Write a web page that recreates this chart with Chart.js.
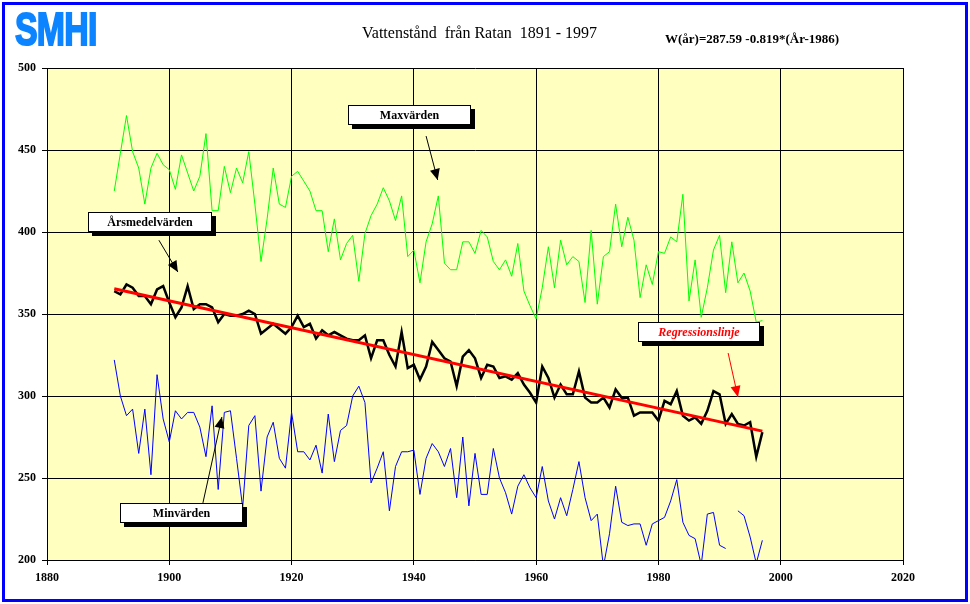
<!DOCTYPE html>
<html>
<head>
<meta charset="utf-8">
<script src="https://cdn.jsdelivr.net/npm/chart.js@4"></script>
<style>
  body { margin: 0; background: #fff; }
  #wrap { position: relative; width: 970px; height: 604px; overflow: hidden; background: #fff; }
  #frame { position: absolute; left: 2px; top: 2px; width: 966px; height: 600px; border: 3px solid #0000ff; box-sizing: border-box; pointer-events: none; }
  .logo { position: absolute; left: 15px; top: 5px; font: bold 47px/48px "Liberation Sans", Arial, sans-serif; color: #0d84ff; -webkit-text-stroke: 2px #0d84ff; transform: scaleX(0.72); transform-origin: left top; letter-spacing: -1px; }
  .title { position: absolute; left: 362px; top: 25px; font: 16px/16px "Liberation Serif", "Times New Roman", serif; white-space: pre; }
  .formula { position: absolute; left: 665px; top: 32px; font: bold 13px/13px "Liberation Serif", "Times New Roman", serif; white-space: pre; }
  .tag { position: absolute; height: 20px; background: #fff; border: 1px solid #000; box-shadow: 4px 4px 0 #000; box-sizing: border-box; text-align: center; font: bold 12px/18px "Liberation Serif", "Times New Roman", serif; }
</style>
</head>
<body>
<div id="wrap">
  <canvas id="chart" width="970" height="604"></canvas>
  <div class="logo">SMHI</div>
  <div class="title">Vattenstånd  från Ratan  1891 - 1997</div>
  <div class="formula">W(år)=287.59 -0.819*(År-1986)</div>
  <div class="tag" style="left:348px;top:105px;width:123px;">Maxvärden</div>
  <div class="tag" style="left:88px;top:212px;width:124px;">Årsmedelvärden</div>
  <div class="tag" style="left:120px;top:503px;width:123px;">Minvärden</div>
  <div class="tag" style="left:638px;top:322px;width:122px;color:#ff0000;font-style:italic;">Regressionslinje</div>
  <div id="frame"></div>
</div>
<script>
const firstYear = 1891;

// yearly maximum water level
const maxValues = [
  425, 448, 471, 449, 439, 417, 439, 448, 441, 438,
  426, 447, 436, 425, 434, 460, 413, 413, 440, 424,
  439, 430, 449, 417, 382, 408, 439, 417, 415, 434,
  437, 431, 425, 413, 413, 388, 408, 383, 393, 398,
  370, 399, 410, 417, 427, 419, 407, 422, 385, 389,
  369, 394, 405, 422, 381, 377, 377, 394, 394, 387,
  401, 397, 382, 377, 383, 373, 393, 364, 355, 347,
  366, 391, 366, 395, 380, 385, 382, 357, 401, 356,
  385, 388, 417, 391, 409, 395, 360, 380, 368, 388,
  387, 397, 394, 423, 358, 383, 348, 366, 389, 398,
  363, 394, 369, 375, 364, 345, 346
];

// yearly mean water level
const meanValues = [
  364, 362, 368, 366, 361, 361, 356, 365, 367, 357,
  348, 354, 367, 353, 356, 356, 354, 345, 350, 349,
  349, 350, 352, 350, 338, 341, 344, 341, 338, 342,
  349, 342, 344, 335, 340, 337, 339, 337, 335, 334,
  334, 337, 323, 334, 334, 325, 318, 339, 317, 319,
  310, 318, 333, 328, 323, 321, 306, 324, 328, 323,
  311, 319, 318, 311, 312, 310, 314, 307, 302, 296,
  318, 311, 299, 307, 301, 301, 315, 299, 296, 296,
  299, 293, 304, 299, 299, 288, 290, 290, 290, 285,
  297, 295, 303, 288, 285, 287, 283, 291, 303, 301,
  283, 289, 283, 282, 284, 263, 278
];

// yearly minimum water level (1992 missing)
const minValues = [
  322, 300, 288, 292, 265, 292, 252, 313, 286, 272,
  291, 286, 290, 290, 281, 263, 294, 243, 290, 291,
  262, 232, 282, 288, 242, 275, 284, 262, 256, 290,
  266, 266, 261, 270, 253, 289, 260, 279, 282, 300,
  306, 296, 247, 256, 266, 230, 257, 266, 266, 267,
  240, 262, 271, 266, 257, 268, 238, 275, 233, 265,
  240, 240, 268, 250, 241, 228, 245, 252, 244, 238,
  257, 236, 225, 238, 227, 243, 260, 238, 224, 228,
  196, 216, 245, 223, 221, 222, 222, 209, 222, 224,
  226, 236, 249, 223, 215, 213, 197, 228, 229, 209,
  207, null, 230, 227, 214, 198, 212
];

// regression line end points
const regYears = [1891, 1997];
const regValues = [365.4, 278.6];

const xTicks = [1880, 1900, 1920, 1940, 1960, 1980, 2000, 2020];
const yTicks = [200, 250, 300, 350, 400, 450, 500];

const toPoints = vals => vals.map((v, i) => ({ x: firstYear + i, y: v }));

// arrows from the label boxes, in data units
const arrows = [
  { from: [1942.0, 458.5], to: [1943.9, 431.7], color: '#000000' },
  { from: [1898.3, 395.0], to: [1901.4, 375.6], color: '#000000' },
  { from: [1905.5, 234.8], to: [1908.6, 287.2], color: '#000000' },
  { from: [1991.4, 326.2], to: [1993.0, 299.4], color: '#ff0000' }
];

const plotBackground = {
  id: 'plotBackground',
  beforeDraw(chart) {
    const { ctx, chartArea: a } = chart;
    ctx.save();
    ctx.fillStyle = '#ffffff';
    ctx.fillRect(0, 0, chart.width, chart.height);
    ctx.fillStyle = '#ffffc0';
    ctx.fillRect(a.left, a.top, a.right - a.left, a.bottom - a.top);
    ctx.restore();
  }
};

const arrowPlugin = {
  id: 'arrowPlugin',
  afterDatasetsDraw(chart) {
    const { ctx } = chart;
    const xs = chart.scales.x, ys = chart.scales.y;
    ctx.save();
    arrows.forEach(a => {
      const x0 = xs.getPixelForValue(a.from[0]), y0 = ys.getPixelForValue(a.from[1]);
      const x1 = xs.getPixelForValue(a.to[0]), y1 = ys.getPixelForValue(a.to[1]);
      const ang = Math.atan2(y1 - y0, x1 - x0);
      ctx.strokeStyle = a.color;
      ctx.fillStyle = a.color;
      ctx.lineWidth = 1;
      ctx.beginPath();
      ctx.moveTo(x0, y0);
      ctx.lineTo(x1, y1);
      ctx.stroke();
      const len = 11, half = 5;
      ctx.beginPath();
      ctx.moveTo(x1, y1);
      ctx.lineTo(x1 - len * Math.cos(ang) + half * Math.sin(ang), y1 - len * Math.sin(ang) - half * Math.cos(ang));
      ctx.lineTo(x1 - len * Math.cos(ang) - half * Math.sin(ang), y1 - len * Math.sin(ang) + half * Math.cos(ang));
      ctx.closePath();
      ctx.fill();
    });
    ctx.restore();
  }
};

const tickFont = { family: '"Liberation Serif", "Times New Roman", serif', weight: 'bold', size: 12 };

new Chart(document.getElementById('chart').getContext('2d'), {
  type: 'line',
  data: {
    datasets: [
      {
        label: 'Regressionslinje',
        data: regYears.map((x, i) => ({ x, y: regValues[i] })),
        borderColor: '#ff0000',
        borderWidth: 3,
        order: 0
      },
      {
        label: 'Årsmedelvärden',
        data: toPoints(meanValues),
        borderColor: '#000000',
        borderWidth: 2.5,
        order: 1
      },
      {
        label: 'Maxvärden',
        data: toPoints(maxValues),
        borderColor: '#00ff00',
        borderWidth: 1,
        order: 2
      },
      {
        label: 'Minvärden',
        data: toPoints(minValues),
        borderColor: '#0000ff',
        borderWidth: 1,
        spanGaps: false,
        order: 3
      }
    ]
  },
  options: {
    responsive: false,
    animation: false,
    devicePixelRatio: 1,
    layout: { padding: { left: 0, top: 68, right: 67, bottom: 0 } },
    elements: { point: { radius: 0 }, line: { tension: 0 } },
    plugins: { legend: { display: false }, tooltip: { enabled: false } },
    scales: {
      x: {
        type: 'linear',
        min: 1880,
        max: 2020,
        afterBuildTicks: s => { s.ticks = xTicks.map(v => ({ value: v })); },
        afterFit: s => { s.height = 44; },
        ticks: { color: '#000', font: tickFont, padding: 6, maxRotation: 0, callback: v => String(v) },
        grid: { color: '#000', lineWidth: 1, tickLength: 5 },
        border: { color: '#000', width: 1 }
      },
      y: {
        type: 'linear',
        min: 200,
        max: 500,
        afterBuildTicks: s => { s.ticks = yTicks.map(v => ({ value: v })); },
        afterFit: s => { s.width = 47; },
        ticks: { color: '#000', font: tickFont, padding: 6, callback: v => String(v) },
        grid: { color: '#000', lineWidth: 1, tickLength: 5 },
        border: { color: '#000', width: 1 }
      }
    }
  },
  plugins: [plotBackground, arrowPlugin]
});
</script>
</body>
</html>
